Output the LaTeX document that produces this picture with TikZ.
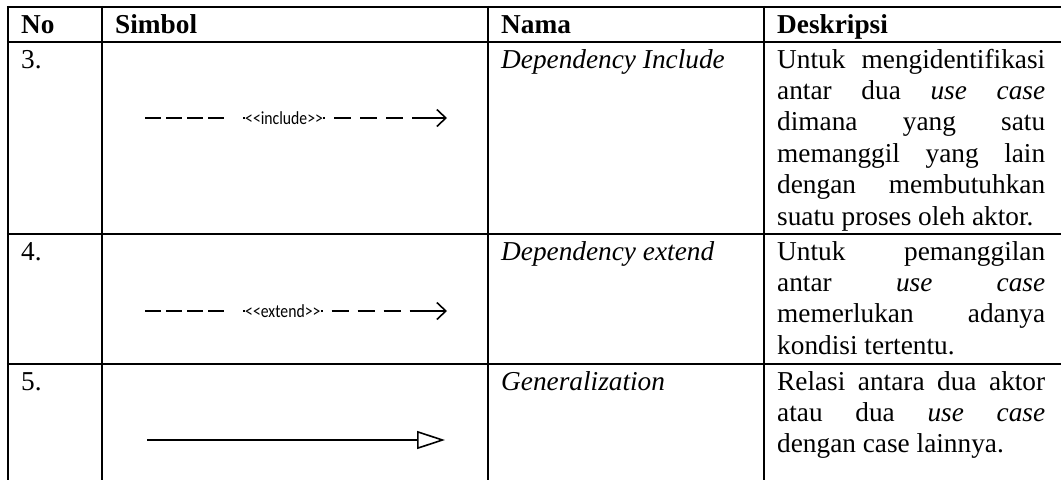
\documentclass[tikz,border=0pt]{standalone}
\usepackage{fontspec}
\setmainfont{Liberation Serif}
\newfontfamily\lblfont[Ligatures=TeXOff]{Carlito}
\usetikzlibrary{arrows.meta}
\newcommand{\lbltext}[1]{\scalebox{0.85}[1]{#1}}
\begin{document}
\begin{tikzpicture}[x=1pt,y=-1pt,
  grid/.style={line width=2.2pt},
  txt/.style={anchor=base west,inner sep=0pt,font=\fontsize{27.3}{31.4}\selectfont},
  hdr/.style={anchor=base west,inner sep=0pt,font=\fontsize{27.3}{31.4}\selectfont\bfseries},
  nm/.style={anchor=base west,inner sep=0pt,font=\fontsize{27.3}{31.4}\selectfont\itshape},
  lbl/.style={anchor=west,inner sep=0pt,font=\lblfont\fontsize{18.5}{20}\selectfont},
  dashl/.style={line width=1.6pt,dash pattern=on 16pt off 5pt on 16pt off 5pt on 16pt off 5pt on 16pt off 19pt on 2pt off 40pt},
  dep/.style={line width=1.6pt,-{Straight Barb[length=9pt,width=17pt]},dash pattern=on 2pt off 9pt on 17pt off 9pt on 17pt off 9pt on 17pt off 9pt on 300pt},
  gen/.style={line width=1.6pt,-{Triangle[open,length=28pt,width=18pt,fill=white]}}
]
\useasboundingbox (0,0) rectangle (1061,480);
\fill[white] (0,0) rectangle (1061,480);
% table rules
\foreach \yy in {7,42,234,364} \draw[grid] (6.9,\yy) -- (1061,\yy);
\foreach \xx in {8,102,488,764} \draw[grid] (\xx,5.9) -- (\xx,480);
% header
\node[hdr] (hno) at (21,33) {No};
\node[hdr] (hsim) at (115,33) {Simbol};
\node[hdr] (hnam) at (501,33) {Nama};
\node[hdr] (hdes) at (777,33) {Deskripsi};
% numbers
\node[txt] (n3) at (21,68) {3.};
\node[txt] (n4) at (21,260) {4.};
\node[txt] (n5) at (21,390) {5.};
% names
\node[nm] (m3) at (501,68) {Dependency Include};
\node[nm] (m4) at (501,260) {Dependency extend};
\node[nm] (m5) at (501,390) {Generalization};
% descriptions row 3
\node[txt] (d3a) at (777,68) {\makebox[268pt][s]{Untuk mengidentifikasi}};
\node[txt] (d3b) at (777,99.4) {\makebox[268pt][s]{antar dua \textit{use case}}};
\node[txt] (d3c) at (777,130.8) {\makebox[268pt][s]{dimana yang satu}};
\node[txt] (d3d) at (777,162.2) {\makebox[268pt][s]{memanggil yang lain}};
\node[txt] (d3e) at (777,193.6) {\makebox[268pt][s]{dengan membutuhkan}};
\node[txt] (d3f) at (777,225) {suatu proses oleh aktor.};
% descriptions row 4
\node[txt] (d4a) at (777,260) {\makebox[268pt][s]{Untuk pemanggilan}};
\node[txt] (d4b) at (777,291.4) {\makebox[268pt][s]{antar \textit{use case}}};
\node[txt] (d4c) at (777,322.8) {\makebox[268pt][s]{memerlukan adanya}};
\node[txt] (d4d) at (777,354.2) {kondisi tertentu.};
% descriptions row 5
\node[txt] (d5a) at (777,390) {\makebox[268pt][s]{Relasi antara dua aktor}};
\node[txt] (d5b) at (777,421.4) {\makebox[268pt][s]{atau dua \textit{use case}}};
\node[txt] (d5c) at (777,452.8) {dengan case lainnya.};
% symbols
\coordinate (is) at (145,118);
\coordinate (ie) at (447,118);
\node[lbl] (incl) at (245,118) {\lbltext{<<include>>}};
\draw[dashl] (is) -- (incl.west);
\draw[dep] (incl.east) -- (ie);
\coordinate (es) at (145,311);
\coordinate (ee) at (447,311);
\node[lbl] (ext) at (245,311) {\lbltext{<<extend>>}};
\draw[dashl] (es) -- (ext.west);
\draw[dep] (ext.east) -- (ee);
\coordinate (gs) at (147,440);
\coordinate (ge) at (445,440);
\draw[gen] (gs) -- (ge);
\end{tikzpicture}
\end{document}
